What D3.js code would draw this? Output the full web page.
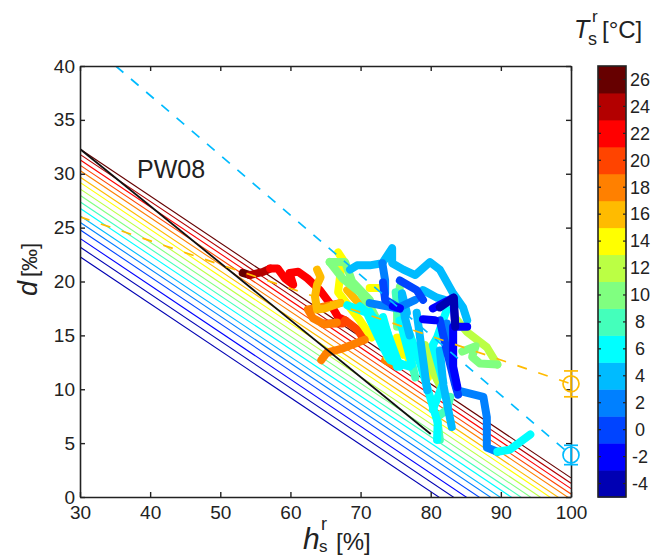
<!DOCTYPE html>
<html><head><meta charset="utf-8">
<script src="https://cdn.jsdelivr.net/npm/d3@7"></script>
<style>html,body{margin:0;padding:0;background:#fff}svg{display:block}text{font-family:"Liberation Sans",Arial,sans-serif;fill:#222}</style>
</head><body><svg id="c" width="652" height="556"></svg>
<script>
// ---- data ----
const xTicks = [30,40,50,60,70,80,90,100];
const yTicks = [0,5,10,15,20,25,30,35,40];
const cbTicks = [-4,-2,0,2,4,6,8,10,12,14,16,18,20,22,24,26];
const bandColors = ["#0000b3","#0000ff","#0044ff","#0080ff","#00bbff","#00ffff","#44ffbb","#80ff80","#bbff44","#ffff00","#ffbb00","#ff8000","#ff4400","#ff0000","#b30000","#660000"];
const bandEdges = [-3,-1,1,3,5,7,9,11,13,15,17,19,21,23,25];
// isolines: temperature, d at h=30, common slope
const isoT = [27,25,23,21,19,17,15,13,11,9,7,5,3,1,-1,-3,-5];
const isoD30 = [32.3,31.8,31.3,30.8,30.3,29.7,29.2,28.6,28.0,27.4,26.8,26.1,25.5,24.8,24.0,23.2,22.3];
const isoSlope = 0.436;
const isoH = [30,100];
const pw08H = [30,80], pw08D = [32.3,5.85];
const blueDashH = [35.1,100], blueDashD = [40,3.9];
const orangeDashH = [30,100], orangeDashD = [26,10.5];
const pointsH = [100,100], pointsD = [10.5,3.9], pointsErr = [1.2,0.9], pointsT = [16,4];
// tracks: [T, [[h,d],...]] drawn warm to cold
const t26 = [[53.2,20.8],[54.2,20.6]];
const t24 = [[54.2,20.6],[56.1,20.9],[57.1,21.2]];
const t22 = [[57.1,21.2],[58.2,21.2],[59.2,20.3],[60.4,19.7],[60.1,20.3],[59.9,20.8],[61.1,20.9],[62.4,20.3],[64.2,19.2],[65.6,18.0],[66.8,16.7],[67.8,16.4]];
const t20 = [[64.6,16.1],[67.5,16.1],[67.8,16.4],[69.6,15.5],[70.3,14.8]];
const t18a = [[67.1,18.0],[64.2,17.6],[62.5,17.4],[63.2,16.6],[64.9,16.0],[66.6,16.2]];
const t18b = [[64.4,12.7],[65.2,13.4],[67.5,13.8],[70.6,14.6]];
const t18c = [[73.5,12.7],[74.9,12.2]];
const t16a = [[63.8,21.1],[64.3,20.4],[63.8,19.7],[63.5,18.6],[63.8,17.4],[64.9,17.5],[67.1,18.0]];
const t16b = [[68.1,19.2],[70.9,17.1]];
const t14a = [[66.8,22.7],[67.5,22.0],[67.1,20.6],[66.8,19.0],[69.9,16.4],[71.6,14.8]];
const t14b = [[71.3,19.4],[73.2,19.4]];
const t14c = [[75.6,14.8],[77.5,11.8]];
const t14d = [[79.2,13.4],[79.6,11.1]];
const t14e = [[75.2,14.8],[76.1,13.2]];
const t12a = [[72.8,16.1],[73.8,13.0]];
const t12b = [[79.6,12.7],[81.8,9.7]];
const t12c = [[83.5,16.6],[85.2,15.3],[88.0,13.9],[89.5,12.3]];
const t12d = [[79.2,14.1],[80.9,10.9]];
const t10a = [[89.5,12.3],[87.0,12.4],[85.9,13.0],[86.4,14.0],[84.5,13.5]];
const t10b = [[65.6,21.8],[67.4,20.3],[69.9,19.0],[71.6,17.4],[73.5,15.0]];
const t10c = [[65.6,21.8],[67.8,21.8],[68.8,20.0],[71.3,18.3]];
const t10d = [[75.6,19.5],[75.2,17.6],[75.2,15.8]];
const t8a = [[81.3,5.3],[80.9,7.4],[82.3,8.1],[82.8,9.3]];
const t8b = [[75.0,19.0],[75.5,16.0]];
const t8c = [[76.3,15.3],[77.8,11.1]];
const t6a = [[68.1,17.8],[70.9,17.1],[73.2,13.9],[74.2,12.7],[77.0,12.1]];
const t6b = [[71.3,17.2],[74.6,13.4]];
const t6c = [[73.2,16.7],[75.2,12.1]];
const t6d = [[76.3,16.4],[78.5,12.4],[80.3,8.4],[81.0,6.9],[80.9,5.3]];
const t6e = [[82.3,17.4],[80.9,14.8],[80.3,14.1],[81.8,10.6],[80.3,8.1]];
const t6f = [[89.5,4.2],[91.3,4.4],[94.2,5.8]];
const t6g = [[69.9,17.7],[73.5,15.8],[75.6,12.1]];
const t6i = [[75.6,16.4],[77.3,12.3]];
const t4a = [[68.5,21.1],[69.5,21.5],[71.3,21.5],[73.1,21.7],[74.5,23.1],[74.5,21.7],[76.1,21.1],[77.8,20.6],[79.9,21.8],[81.3,21.1],[83.2,18.9],[84.6,17.6],[85.2,16.4]];
const t4b = [[78.0,17.1],[79.5,9.9]];
const t4c = [[83.0,6.5],[82.5,8.1],[81.8,10.4],[81.3,13.6]];
const t4d = [[75.9,18.6],[76.3,16.7],[77.0,15.0]];
const t4e = [[78.9,19.2],[80.9,18.5],[82.0,18.3]];
const t4f = [[75.9,18.9],[76.6,17.1]];
const t2a = [[73.1,21.7],[73.5,20.1],[73.5,18.9]];
const t2b = [[71.3,18.0],[75.2,17.5],[77.8,18.3]];
const t2c = [[82.3,16.1],[82.3,14.3],[83.8,9.9],[87.5,9.3],[88.0,7.4],[88.0,4.6],[89.5,4.2]];
const t0a = [[73.2,19.9],[73.5,18.3],[75.6,17.5]];
const t0b = [[75.6,20.1],[78.0,19.2],[78.9,18.3]];
const t0c = [[81.3,16.4],[82.1,14.1],[83.5,10.4],[83.9,9.5]];
const tm2a = [[80.3,17.5],[83.2,18.5],[83.5,15.8],[85.2,15.8]];
const tm2b = [[83.2,15.8],[83.2,12.1],[83.8,10.2]];
const tm2c = [[78.9,16.5],[80.6,16.4]];
const tm2d = [[74.6,17.7],[75.6,17.5]];
const tm4 = [[81.3,17.6],[83.3,18.5],[83.5,15.8]];
const tracks = [[26,t26],[24,t24],[22,t22],[20,t20],[16,t16b],[14,t14a],[18,t18a],[18,t18b],[18,t18c],[16,t16a],[14,t14b],[14,t14c],[14,t14d],[14,t14e],[12,t12a],[12,t12b],[12,t12c],[12,t12d],[10,t10a],[10,t10b],[10,t10c],[10,t10d],[8,t8a],[8,t8b],[8,t8c],[6,t6a],[6,t6b],[6,t6c],[6,t6g],[6,t6i],[6,t6d],[6,t6e],[4,t4a],[4,t4b],[4,t4c],[4,t4d],[4,t4e],[4,t4f],[2,t2a],[2,t2b],[2,t2c],[6,t6f],[0,t0a],[0,t0b],[0,t0c],[-2,tm2a],[-2,tm2b],[-2,tm2c],[-2,tm2d],[-4,tm4]];

// ---- scales ----
const svg = d3.select("#c");
const L=80,R=571,T=66,B=497;
const x = d3.scaleLinear().domain([30,100]).range([L,R]);
const y = d3.scaleLinear().domain([0,40]).range([B,T]);
const cY = d3.scaleLinear().domain([-5,27]).range([B,T]);
const color = d3.scaleThreshold().domain(bandEdges).range(bandColors);
const line = d3.line().x(p=>x(p[0])).y(p=>y(p[1]));
svg.append("defs").append("clipPath").attr("id","plot").append("rect").attr("x",L).attr("y",T).attr("width",R-L).attr("height",B-T);
const plot = svg.append("g").attr("clip-path","url(#plot)");

// isolines
plot.selectAll(".iso").data(isoT).join("path").attr("fill","none").attr("stroke-width",1.1)
  .attr("stroke",t=>color(t-1))
  .attr("d",(t,i)=>line(isoH.map(h=>[h,isoD30[i]-isoSlope*(h-30)])));
// tracks
plot.selectAll(".trk").data(tracks).join("path").attr("fill","none").attr("stroke-width",8)
  .attr("stroke-linecap","round").attr("stroke-linejoin","round")
  .attr("stroke",d=>color(d[0])).attr("d",d=>line(d[1]));
// black line
plot.append("path").attr("fill","none").attr("stroke","#111").attr("stroke-width",1.8)
  .attr("d",line(pw08H.map((h,i)=>[h,pw08D[i]])));
// dashed
plot.append("path").attr("fill","none").attr("stroke",color(4)).attr("stroke-width",1.7).attr("stroke-dasharray","10 10")
  .attr("d",line(blueDashH.map((h,i)=>[h,blueDashD[i]])));
plot.append("path").attr("fill","none").attr("stroke",color(16)).attr("stroke-width",1.7).attr("stroke-dasharray","10 12")
  .attr("d",line(orangeDashH.map((h,i)=>[h,orangeDashD[i]])));

// axes
function styleAxis(g){g.selectAll("path.domain").attr("stroke","#222").attr("stroke-width",1.6);
  g.selectAll("line").attr("stroke","#222").attr("stroke-width",1.4);
  g.selectAll("text").attr("font-size",19).attr("fill","#222").attr("font-family",'"Liberation Sans",Arial,sans-serif');}
svg.append("g").attr("transform",`translate(0,${B})`).call(d3.axisBottom(x).tickValues(xTicks).tickSizeInner(-5).tickSizeOuter(0).tickPadding(8.5)).call(styleAxis);
svg.append("g").attr("transform",`translate(0,${T})`).call(d3.axisTop(x).tickValues(xTicks).tickSizeInner(-5).tickSizeOuter(0).tickFormat("")).call(styleAxis);
svg.append("g").attr("transform",`translate(${L},0)`).call(d3.axisLeft(y).tickValues(yTicks).tickSizeInner(-5).tickSizeOuter(0).tickPadding(5)).call(styleAxis);
svg.append("g").attr("transform",`translate(${R},0)`).call(d3.axisRight(y).tickValues(yTicks).tickSizeInner(-5).tickSizeOuter(0).tickFormat("")).call(styleAxis);

// points with error bars
const pts = svg.append("g");
pointsH.forEach((h,i)=>{
  const c=color(pointsT[i]),px=x(h),py=y(pointsD[i]),e=pointsErr[i];
  const g=pts.append("g").attr("fill","none").attr("stroke",c).attr("stroke-width",1.7);
  g.append("circle").attr("cx",px).attr("cy",py).attr("r",8);
  g.append("line").attr("x1",px).attr("x2",px).attr("y1",y(pointsD[i]-e)).attr("y2",y(pointsD[i]+e));
  [-e,e].forEach(s=>g.append("line").attr("x1",px-7).attr("x2",px+7).attr("y1",y(pointsD[i]+s)).attr("y2",y(pointsD[i]+s)));
});

// colorbar
const cbL=598,cbW=28;
const cb=svg.append("g");
cb.selectAll("rect").data(cbTicks).join("rect").attr("x",cbL).attr("width",cbW)
  .attr("y",t=>cY(t+1)).attr("height",t=>cY(t-1)-cY(t+1)+0.5).attr("fill",t=>color(t));
cb.append("rect").attr("x",cbL).attr("y",T).attr("width",cbW).attr("height",B-T).attr("fill","none").attr("stroke","#222").attr("stroke-width",1.6);
cb.selectAll(".tl").data(cbTicks).join("line").attr("x1",cbL).attr("x2",cbL+3).attr("y1",t=>cY(t)).attr("y2",t=>cY(t)).attr("stroke","#222").attr("stroke-width",1.2);
cb.selectAll(".tr").data(cbTicks).join("line").attr("x1",cbL+cbW-3).attr("x2",cbL+cbW).attr("y1",t=>cY(t)).attr("y2",t=>cY(t)).attr("stroke","#222").attr("stroke-width",1.2);
cb.selectAll("text").data(cbTicks).join("text").attr("x",640).attr("y",t=>cY(t)).attr("dy",".35em").attr("text-anchor","middle").attr("font-size",18).text(d=>d);

// labels
function txt(s,xx,yy,size,opt={}){const t=svg.append("text").attr("x",xx).attr("y",yy).attr("font-size",size).text(s);
  if(opt.italic)t.attr("font-style","italic"); if(opt.rot)t.attr("transform",`rotate(${opt.rot} ${xx} ${yy})`); if(opt.anchor)t.attr("text-anchor",opt.anchor); return t;}
txt("PW08",137,178,25);
txt("h",303,549,30,{italic:true});
txt("s",319,552,17);
txt("r",321,530,18);
txt("[%]",336,550,24);
txt("d",37,296,27,{italic:true,rot:-90});
txt("[‰]",37,277,22,{rot:-90});
txt("T",574,38,25,{italic:true});
txt("s",588,45,18);
txt("r",592,22,17);
txt("[°C]",602,38,24);
</script></body></html>
